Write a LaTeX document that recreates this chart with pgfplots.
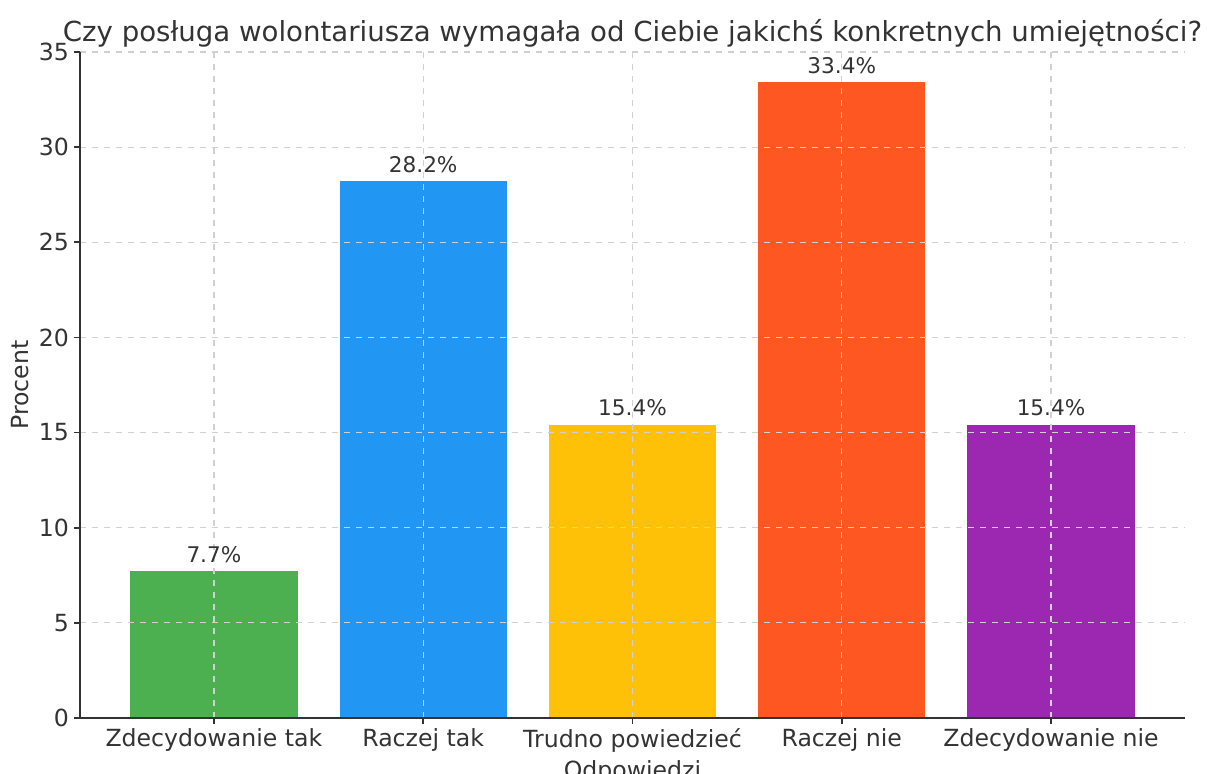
\documentclass[border=0pt]{standalone}
\usepackage{pgfplots}
\pgfplotsset{compat=1.18}
\usepackage{fontspec}
\setmainfont{DejaVu Sans}
\usetikzlibrary{calc}
\definecolor{txt}{HTML}{333333}
\definecolor{cGreen}{HTML}{4CAF50}
\definecolor{cBlue}{HTML}{2196F3}
\definecolor{cYellow}{HTML}{FFC107}
\definecolor{cOrange}{HTML}{FF5722}
\definecolor{cPurple}{HTML}{9C27B0}
\begin{document}
\begin{tikzpicture}
\begin{axis}[
    name=ax,
    scale only axis,
    width=552.5pt, height=333pt,
    ybar, bar width=0.8, bar shift=0pt,
    xmin=-0.64, xmax=4.64,
    ymin=0, ymax=35,
    ytick={0,5,...,35},
    xtick={0,1,2,3,4},
    xticklabels={Zdecydowanie tak, Raczej tak, Trudno powiedzieć, Raczej nie, Zdecydowanie nie},
    axis x line=bottom, axis y line=left,
    axis line style={-, draw=txt, line width=0.9pt},
    tick style={draw=txt, line width=0.8pt},
    tick align=outside, major tick length=3pt,
    grid=major,
    major grid style={draw=black!18, dashed, line width=0.6pt},
    axis on top,
    /pgf/number format/assume math mode=true,
    ticklabel style={font=\fontsize{11.8}{13}\selectfont, text=txt},
    xticklabel style={yshift=1pt},
    yticklabel style={xshift=1pt},
    xlabel={Odpowiedzi}, ylabel={Procent},
    label style={font=\fontsize{11.8}{13}\selectfont, text=txt},
    xlabel style={yshift=3pt},
    ylabel style={yshift=-2pt},
    title={Czy posługa wolontariusza wymagała od Ciebie jakichś konkretnych umiejętności?},
    title style={font=\fontsize{13.8}{15}\selectfont, text=txt, anchor=south, yshift=-7pt},
    nodes near coords={\pgfmathprintnumber[fixed,precision=1,fixed zerofill]{\pgfplotspointmeta}\%},
    nodes near coords style={font=\fontsize{10.8}{12}\selectfont, text=txt, /pgf/number format/assume math mode=true, yshift=1pt},
]
\addplot[fill=cGreen, draw=none] coordinates {(0,7.7)};
\addplot[fill=cBlue, draw=none] coordinates {(1,28.2)};
\addplot[fill=cYellow, draw=none] coordinates {(2,15.4)};
\addplot[fill=cOrange, draw=none] coordinates {(3,33.4)};
\addplot[fill=cPurple, draw=none] coordinates {(4,15.4)};
\end{axis}
\pgfresetboundingbox
\path[use as bounding box] ($(ax.south west)+(-40pt,-28pt)$) rectangle ($(ax.north east)+(11pt,26pt)$);
\end{tikzpicture}
\end{document}
